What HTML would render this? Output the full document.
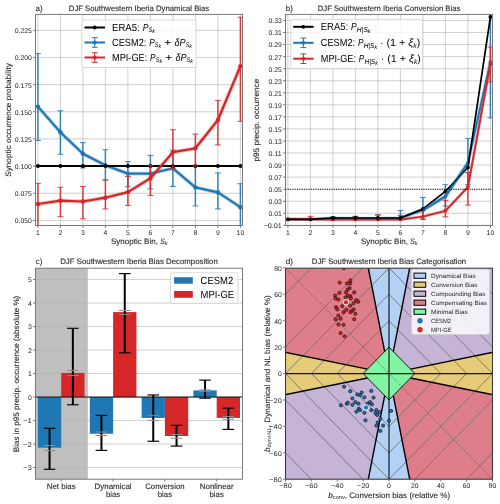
<!DOCTYPE html>
<html><head><meta charset="utf-8"><style>
html,body{margin:0;padding:0;background:#fff;}
svg{display:block;will-change:transform;text-rendering:geometricPrecision;font-family:"Liberation Sans", sans-serif;}
</style></head><body>
<svg width="500" height="504" viewBox="0 0 500 504">
<rect width="500" height="504" fill="#fff"/>
<clipPath id="ca"><rect x="35.5" y="14.4" width="207.0" height="211.1"/></clipPath>
<line x1="37.9" y1="14.4" x2="37.9" y2="225.5" stroke="#b0b0b0" stroke-width="0.6"/>
<line x1="60.4" y1="14.4" x2="60.4" y2="225.5" stroke="#b0b0b0" stroke-width="0.6"/>
<line x1="82.9" y1="14.4" x2="82.9" y2="225.5" stroke="#b0b0b0" stroke-width="0.6"/>
<line x1="105.4" y1="14.4" x2="105.4" y2="225.5" stroke="#b0b0b0" stroke-width="0.6"/>
<line x1="127.9" y1="14.4" x2="127.9" y2="225.5" stroke="#b0b0b0" stroke-width="0.6"/>
<line x1="150.4" y1="14.4" x2="150.4" y2="225.5" stroke="#b0b0b0" stroke-width="0.6"/>
<line x1="172.9" y1="14.4" x2="172.9" y2="225.5" stroke="#b0b0b0" stroke-width="0.6"/>
<line x1="195.4" y1="14.4" x2="195.4" y2="225.5" stroke="#b0b0b0" stroke-width="0.6"/>
<line x1="217.9" y1="14.4" x2="217.9" y2="225.5" stroke="#b0b0b0" stroke-width="0.6"/>
<line x1="240.4" y1="14.4" x2="240.4" y2="225.5" stroke="#b0b0b0" stroke-width="0.6"/>
<line x1="35.5" y1="220.38" x2="242.5" y2="220.38" stroke="#b0b0b0" stroke-width="0.6"/>
<line x1="35.5" y1="193.24" x2="242.5" y2="193.24" stroke="#b0b0b0" stroke-width="0.6"/>
<line x1="35.5" y1="166.1" x2="242.5" y2="166.1" stroke="#b0b0b0" stroke-width="0.6"/>
<line x1="35.5" y1="138.96" x2="242.5" y2="138.96" stroke="#b0b0b0" stroke-width="0.6"/>
<line x1="35.5" y1="111.81" x2="242.5" y2="111.81" stroke="#b0b0b0" stroke-width="0.6"/>
<line x1="35.5" y1="84.67" x2="242.5" y2="84.67" stroke="#b0b0b0" stroke-width="0.6"/>
<line x1="35.5" y1="57.53" x2="242.5" y2="57.53" stroke="#b0b0b0" stroke-width="0.6"/>
<line x1="35.5" y1="30.39" x2="242.5" y2="30.39" stroke="#b0b0b0" stroke-width="0.6"/>
<g clip-path="url(#ca)">
<polyline points="37.9,106.6 60.4,132.3 82.9,153.7 105.4,165.3 127.9,173.6 150.4,173.6 172.9,168.3 195.4,187.4 217.9,192.4 240.4,207.2" fill="none" stroke="#1f77b4" stroke-width="3.9" stroke-linejoin="round" opacity="0.3"/>
<polyline points="37.9,106.6 60.4,132.3 82.9,153.7 105.4,165.3 127.9,173.6 150.4,173.6 172.9,168.3 195.4,187.4 217.9,192.4 240.4,207.2" fill="none" stroke="#1f77b4" stroke-width="2.2" stroke-linejoin="round"/>
<line x1="37.9" y1="53.6" x2="37.9" y2="140.5" stroke="#1f77b4" stroke-width="1.5" opacity="0.88"/>
<line x1="35" y1="53.6" x2="40.8" y2="53.6" stroke="#1f77b4" stroke-width="1.1" opacity="0.8"/>
<line x1="35" y1="140.5" x2="40.8" y2="140.5" stroke="#1f77b4" stroke-width="1.1" opacity="0.8"/>
<circle cx="37.9" cy="106.6" r="2.2" fill="#1f77b4" stroke="none" stroke-width="0"/>
<line x1="60.4" y1="110.8" x2="60.4" y2="154.2" stroke="#1f77b4" stroke-width="1.5" opacity="0.88"/>
<line x1="57.5" y1="110.8" x2="63.3" y2="110.8" stroke="#1f77b4" stroke-width="1.1" opacity="0.8"/>
<line x1="57.5" y1="154.2" x2="63.3" y2="154.2" stroke="#1f77b4" stroke-width="1.1" opacity="0.8"/>
<circle cx="60.4" cy="132.3" r="2.2" fill="#1f77b4" stroke="none" stroke-width="0"/>
<line x1="82.9" y1="142.6" x2="82.9" y2="167.9" stroke="#1f77b4" stroke-width="1.5" opacity="0.88"/>
<line x1="80" y1="142.6" x2="85.8" y2="142.6" stroke="#1f77b4" stroke-width="1.1" opacity="0.8"/>
<line x1="80" y1="167.9" x2="85.8" y2="167.9" stroke="#1f77b4" stroke-width="1.1" opacity="0.8"/>
<circle cx="82.9" cy="153.7" r="2.2" fill="#1f77b4" stroke="none" stroke-width="0"/>
<line x1="105.4" y1="149.7" x2="105.4" y2="179.9" stroke="#1f77b4" stroke-width="1.5" opacity="0.88"/>
<line x1="102.5" y1="149.7" x2="108.3" y2="149.7" stroke="#1f77b4" stroke-width="1.1" opacity="0.8"/>
<line x1="102.5" y1="179.9" x2="108.3" y2="179.9" stroke="#1f77b4" stroke-width="1.1" opacity="0.8"/>
<circle cx="105.4" cy="165.3" r="2.2" fill="#1f77b4" stroke="none" stroke-width="0"/>
<line x1="127.9" y1="161.6" x2="127.9" y2="186.6" stroke="#1f77b4" stroke-width="1.5" opacity="0.88"/>
<line x1="125" y1="161.6" x2="130.8" y2="161.6" stroke="#1f77b4" stroke-width="1.1" opacity="0.8"/>
<line x1="125" y1="186.6" x2="130.8" y2="186.6" stroke="#1f77b4" stroke-width="1.1" opacity="0.8"/>
<circle cx="127.9" cy="173.6" r="2.2" fill="#1f77b4" stroke="none" stroke-width="0"/>
<line x1="150.4" y1="155.4" x2="150.4" y2="188.9" stroke="#1f77b4" stroke-width="1.5" opacity="0.88"/>
<line x1="147.5" y1="155.4" x2="153.3" y2="155.4" stroke="#1f77b4" stroke-width="1.1" opacity="0.8"/>
<line x1="147.5" y1="188.9" x2="153.3" y2="188.9" stroke="#1f77b4" stroke-width="1.1" opacity="0.8"/>
<circle cx="150.4" cy="173.6" r="2.2" fill="#1f77b4" stroke="none" stroke-width="0"/>
<line x1="172.9" y1="150.2" x2="172.9" y2="186.5" stroke="#1f77b4" stroke-width="1.5" opacity="0.88"/>
<line x1="170" y1="150.2" x2="175.8" y2="150.2" stroke="#1f77b4" stroke-width="1.1" opacity="0.8"/>
<line x1="170" y1="186.5" x2="175.8" y2="186.5" stroke="#1f77b4" stroke-width="1.1" opacity="0.8"/>
<circle cx="172.9" cy="168.3" r="2.2" fill="#1f77b4" stroke="none" stroke-width="0"/>
<line x1="195.4" y1="166.1" x2="195.4" y2="205.9" stroke="#1f77b4" stroke-width="1.5" opacity="0.88"/>
<line x1="192.5" y1="166.1" x2="198.3" y2="166.1" stroke="#1f77b4" stroke-width="1.1" opacity="0.8"/>
<line x1="192.5" y1="205.9" x2="198.3" y2="205.9" stroke="#1f77b4" stroke-width="1.1" opacity="0.8"/>
<circle cx="195.4" cy="187.4" r="2.2" fill="#1f77b4" stroke="none" stroke-width="0"/>
<line x1="217.9" y1="172.9" x2="217.9" y2="208.9" stroke="#1f77b4" stroke-width="1.5" opacity="0.88"/>
<line x1="215" y1="172.9" x2="220.8" y2="172.9" stroke="#1f77b4" stroke-width="1.1" opacity="0.8"/>
<line x1="215" y1="208.9" x2="220.8" y2="208.9" stroke="#1f77b4" stroke-width="1.1" opacity="0.8"/>
<circle cx="217.9" cy="192.4" r="2.2" fill="#1f77b4" stroke="none" stroke-width="0"/>
<line x1="240.4" y1="183.7" x2="240.4" y2="232" stroke="#1f77b4" stroke-width="1.5" opacity="0.88"/>
<line x1="237.5" y1="183.7" x2="243.3" y2="183.7" stroke="#1f77b4" stroke-width="1.1" opacity="0.8"/>
<line x1="237.5" y1="232" x2="243.3" y2="232" stroke="#1f77b4" stroke-width="1.1" opacity="0.8"/>
<circle cx="240.4" cy="207.2" r="2.2" fill="#1f77b4" stroke="none" stroke-width="0"/>
<polyline points="37.9,166.1 60.4,166.1 82.9,166.1 105.4,166.1 127.9,166.1 150.4,166.1 172.9,166.1 195.4,166.1 217.9,166.1 240.4,166.1" fill="none" stroke="#000" stroke-width="2" stroke-linejoin="round"/>
<circle cx="37.9" cy="166.1" r="2" fill="#000" stroke="none" stroke-width="0"/>
<circle cx="60.4" cy="166.1" r="2" fill="#000" stroke="none" stroke-width="0"/>
<circle cx="82.9" cy="166.1" r="2" fill="#000" stroke="none" stroke-width="0"/>
<circle cx="105.4" cy="166.1" r="2" fill="#000" stroke="none" stroke-width="0"/>
<circle cx="127.9" cy="166.1" r="2" fill="#000" stroke="none" stroke-width="0"/>
<circle cx="150.4" cy="166.1" r="2" fill="#000" stroke="none" stroke-width="0"/>
<circle cx="172.9" cy="166.1" r="2" fill="#000" stroke="none" stroke-width="0"/>
<circle cx="195.4" cy="166.1" r="2" fill="#000" stroke="none" stroke-width="0"/>
<circle cx="217.9" cy="166.1" r="2" fill="#000" stroke="none" stroke-width="0"/>
<circle cx="240.4" cy="166.1" r="2" fill="#000" stroke="none" stroke-width="0"/>
<polyline points="37.9,204 60.4,200.7 82.9,201.5 105.4,197.7 127.9,192.1 150.4,178.3 172.9,152.2 195.4,148.3 217.9,120 240.4,66.1" fill="none" stroke="#d62728" stroke-width="3.9" stroke-linejoin="round" opacity="0.3"/>
<polyline points="37.9,204 60.4,200.7 82.9,201.5 105.4,197.7 127.9,192.1 150.4,178.3 172.9,152.2 195.4,148.3 217.9,120 240.4,66.1" fill="none" stroke="#d62728" stroke-width="2.2" stroke-linejoin="round"/>
<line x1="37.9" y1="183.4" x2="37.9" y2="232" stroke="#d62728" stroke-width="1.5" opacity="0.88"/>
<line x1="35" y1="183.4" x2="40.8" y2="183.4" stroke="#d62728" stroke-width="1.1" opacity="0.8"/>
<line x1="35" y1="232" x2="40.8" y2="232" stroke="#d62728" stroke-width="1.1" opacity="0.8"/>
<circle cx="37.9" cy="204" r="2.2" fill="#d62728" stroke="none" stroke-width="0"/>
<line x1="60.4" y1="187.3" x2="60.4" y2="216.7" stroke="#d62728" stroke-width="1.5" opacity="0.88"/>
<line x1="57.5" y1="187.3" x2="63.3" y2="187.3" stroke="#d62728" stroke-width="1.1" opacity="0.8"/>
<line x1="57.5" y1="216.7" x2="63.3" y2="216.7" stroke="#d62728" stroke-width="1.1" opacity="0.8"/>
<circle cx="60.4" cy="200.7" r="2.2" fill="#d62728" stroke="none" stroke-width="0"/>
<line x1="82.9" y1="186.5" x2="82.9" y2="218.8" stroke="#d62728" stroke-width="1.5" opacity="0.88"/>
<line x1="80" y1="186.5" x2="85.8" y2="186.5" stroke="#d62728" stroke-width="1.1" opacity="0.8"/>
<line x1="80" y1="218.8" x2="85.8" y2="218.8" stroke="#d62728" stroke-width="1.1" opacity="0.8"/>
<circle cx="82.9" cy="201.5" r="2.2" fill="#d62728" stroke="none" stroke-width="0"/>
<line x1="105.4" y1="179.9" x2="105.4" y2="208.9" stroke="#d62728" stroke-width="1.5" opacity="0.88"/>
<line x1="102.5" y1="179.9" x2="108.3" y2="179.9" stroke="#d62728" stroke-width="1.1" opacity="0.8"/>
<line x1="102.5" y1="208.9" x2="108.3" y2="208.9" stroke="#d62728" stroke-width="1.1" opacity="0.8"/>
<circle cx="105.4" cy="197.7" r="2.2" fill="#d62728" stroke="none" stroke-width="0"/>
<line x1="127.9" y1="176.5" x2="127.9" y2="205.5" stroke="#d62728" stroke-width="1.5" opacity="0.88"/>
<line x1="125" y1="176.5" x2="130.8" y2="176.5" stroke="#d62728" stroke-width="1.1" opacity="0.8"/>
<line x1="125" y1="205.5" x2="130.8" y2="205.5" stroke="#d62728" stroke-width="1.1" opacity="0.8"/>
<circle cx="127.9" cy="192.1" r="2.2" fill="#d62728" stroke="none" stroke-width="0"/>
<line x1="150.4" y1="165.4" x2="150.4" y2="195.5" stroke="#d62728" stroke-width="1.5" opacity="0.88"/>
<line x1="147.5" y1="165.4" x2="153.3" y2="165.4" stroke="#d62728" stroke-width="1.1" opacity="0.8"/>
<line x1="147.5" y1="195.5" x2="153.3" y2="195.5" stroke="#d62728" stroke-width="1.1" opacity="0.8"/>
<circle cx="150.4" cy="178.3" r="2.2" fill="#d62728" stroke="none" stroke-width="0"/>
<line x1="172.9" y1="129.7" x2="172.9" y2="168.3" stroke="#d62728" stroke-width="1.5" opacity="0.88"/>
<line x1="170" y1="129.7" x2="175.8" y2="129.7" stroke="#d62728" stroke-width="1.1" opacity="0.8"/>
<line x1="170" y1="168.3" x2="175.8" y2="168.3" stroke="#d62728" stroke-width="1.1" opacity="0.8"/>
<circle cx="172.9" cy="152.2" r="2.2" fill="#d62728" stroke="none" stroke-width="0"/>
<line x1="195.4" y1="134.1" x2="195.4" y2="166.1" stroke="#d62728" stroke-width="1.5" opacity="0.88"/>
<line x1="192.5" y1="134.1" x2="198.3" y2="134.1" stroke="#d62728" stroke-width="1.1" opacity="0.8"/>
<line x1="192.5" y1="166.1" x2="198.3" y2="166.1" stroke="#d62728" stroke-width="1.1" opacity="0.8"/>
<circle cx="195.4" cy="148.3" r="2.2" fill="#d62728" stroke="none" stroke-width="0"/>
<line x1="217.9" y1="100.4" x2="217.9" y2="144.9" stroke="#d62728" stroke-width="1.5" opacity="0.88"/>
<line x1="215" y1="100.4" x2="220.8" y2="100.4" stroke="#d62728" stroke-width="1.1" opacity="0.8"/>
<line x1="215" y1="144.9" x2="220.8" y2="144.9" stroke="#d62728" stroke-width="1.1" opacity="0.8"/>
<circle cx="217.9" cy="120" r="2.2" fill="#d62728" stroke="none" stroke-width="0"/>
<line x1="240.4" y1="17.2" x2="240.4" y2="121.3" stroke="#d62728" stroke-width="1.5" opacity="0.88"/>
<line x1="237.5" y1="17.2" x2="243.3" y2="17.2" stroke="#d62728" stroke-width="1.1" opacity="0.8"/>
<line x1="237.5" y1="121.3" x2="243.3" y2="121.3" stroke="#d62728" stroke-width="1.1" opacity="0.8"/>
<circle cx="240.4" cy="66.1" r="2.2" fill="#d62728" stroke="none" stroke-width="0"/>
</g>
<rect x="35.5" y="14.4" width="207" height="211.1" fill="none" stroke="#737373" stroke-width="0.95"/>
<line x1="37.9" y1="225.5" x2="37.9" y2="227.9" stroke="#737373" stroke-width="0.95"/>
<text x="37.9" y="234.8" font-size="6.78" text-anchor="middle" fill="#262626" stroke="#262626" stroke-width="0" textLength="3.82" lengthAdjust="spacingAndGlyphs">1</text>
<line x1="60.4" y1="225.5" x2="60.4" y2="227.9" stroke="#737373" stroke-width="0.95"/>
<text x="60.4" y="234.8" font-size="6.78" text-anchor="middle" fill="#262626" stroke="#262626" stroke-width="0" textLength="3.82" lengthAdjust="spacingAndGlyphs">2</text>
<line x1="82.9" y1="225.5" x2="82.9" y2="227.9" stroke="#737373" stroke-width="0.95"/>
<text x="82.9" y="234.8" font-size="6.78" text-anchor="middle" fill="#262626" stroke="#262626" stroke-width="0" textLength="3.82" lengthAdjust="spacingAndGlyphs">3</text>
<line x1="105.4" y1="225.5" x2="105.4" y2="227.9" stroke="#737373" stroke-width="0.95"/>
<text x="105.4" y="234.8" font-size="6.78" text-anchor="middle" fill="#262626" stroke="#262626" stroke-width="0" textLength="3.82" lengthAdjust="spacingAndGlyphs">4</text>
<line x1="127.9" y1="225.5" x2="127.9" y2="227.9" stroke="#737373" stroke-width="0.95"/>
<text x="127.9" y="234.8" font-size="6.78" text-anchor="middle" fill="#262626" stroke="#262626" stroke-width="0" textLength="3.82" lengthAdjust="spacingAndGlyphs">5</text>
<line x1="150.4" y1="225.5" x2="150.4" y2="227.9" stroke="#737373" stroke-width="0.95"/>
<text x="150.4" y="234.8" font-size="6.78" text-anchor="middle" fill="#262626" stroke="#262626" stroke-width="0" textLength="3.82" lengthAdjust="spacingAndGlyphs">6</text>
<line x1="172.9" y1="225.5" x2="172.9" y2="227.9" stroke="#737373" stroke-width="0.95"/>
<text x="172.9" y="234.8" font-size="6.78" text-anchor="middle" fill="#262626" stroke="#262626" stroke-width="0" textLength="3.82" lengthAdjust="spacingAndGlyphs">7</text>
<line x1="195.4" y1="225.5" x2="195.4" y2="227.9" stroke="#737373" stroke-width="0.95"/>
<text x="195.4" y="234.8" font-size="6.78" text-anchor="middle" fill="#262626" stroke="#262626" stroke-width="0" textLength="3.82" lengthAdjust="spacingAndGlyphs">8</text>
<line x1="217.9" y1="225.5" x2="217.9" y2="227.9" stroke="#737373" stroke-width="0.95"/>
<text x="217.9" y="234.8" font-size="6.78" text-anchor="middle" fill="#262626" stroke="#262626" stroke-width="0" textLength="3.82" lengthAdjust="spacingAndGlyphs">9</text>
<line x1="240.4" y1="225.5" x2="240.4" y2="227.9" stroke="#737373" stroke-width="0.95"/>
<text x="240.4" y="234.8" font-size="6.78" text-anchor="middle" fill="#262626" stroke="#262626" stroke-width="0" textLength="7.63" lengthAdjust="spacingAndGlyphs">10</text>
<line x1="33.1" y1="220.38" x2="35.5" y2="220.38" stroke="#737373" stroke-width="0.95"/>
<text x="31.9" y="223.28" font-size="6.78" text-anchor="end" fill="#262626" stroke="#262626" stroke-width="0" textLength="17.18" lengthAdjust="spacingAndGlyphs">0.050</text>
<line x1="33.1" y1="193.24" x2="35.5" y2="193.24" stroke="#737373" stroke-width="0.95"/>
<text x="31.9" y="196.14" font-size="6.78" text-anchor="end" fill="#262626" stroke="#262626" stroke-width="0" textLength="17.18" lengthAdjust="spacingAndGlyphs">0.075</text>
<line x1="33.1" y1="166.1" x2="35.5" y2="166.1" stroke="#737373" stroke-width="0.95"/>
<text x="31.9" y="169" font-size="6.78" text-anchor="end" fill="#262626" stroke="#262626" stroke-width="0" textLength="17.18" lengthAdjust="spacingAndGlyphs">0.100</text>
<line x1="33.1" y1="138.96" x2="35.5" y2="138.96" stroke="#737373" stroke-width="0.95"/>
<text x="31.9" y="141.86" font-size="6.78" text-anchor="end" fill="#262626" stroke="#262626" stroke-width="0" textLength="17.18" lengthAdjust="spacingAndGlyphs">0.125</text>
<line x1="33.1" y1="111.81" x2="35.5" y2="111.81" stroke="#737373" stroke-width="0.95"/>
<text x="31.9" y="114.72" font-size="6.78" text-anchor="end" fill="#262626" stroke="#262626" stroke-width="0" textLength="17.18" lengthAdjust="spacingAndGlyphs">0.150</text>
<line x1="33.1" y1="84.67" x2="35.5" y2="84.67" stroke="#737373" stroke-width="0.95"/>
<text x="31.9" y="87.57" font-size="6.78" text-anchor="end" fill="#262626" stroke="#262626" stroke-width="0" textLength="17.18" lengthAdjust="spacingAndGlyphs">0.175</text>
<line x1="33.1" y1="57.53" x2="35.5" y2="57.53" stroke="#737373" stroke-width="0.95"/>
<text x="31.9" y="60.43" font-size="6.78" text-anchor="end" fill="#262626" stroke="#262626" stroke-width="0" textLength="17.18" lengthAdjust="spacingAndGlyphs">0.200</text>
<line x1="33.1" y1="30.39" x2="35.5" y2="30.39" stroke="#737373" stroke-width="0.95"/>
<text x="31.9" y="33.29" font-size="6.78" text-anchor="end" fill="#262626" stroke="#262626" stroke-width="0" textLength="17.18" lengthAdjust="spacingAndGlyphs">0.225</text>
<text x="35.6" y="11" font-size="7.91" fill="#262626" stroke="#262626" stroke-width="0.1" textLength="7.02" lengthAdjust="spacingAndGlyphs">a)</text>
<text x="139" y="11" font-size="7.91" text-anchor="middle" fill="#262626" stroke="#262626" stroke-width="0.1" textLength="140.36" lengthAdjust="spacingAndGlyphs">DJF Southwestern Iberia Dynamical Bias</text>
<text x="111" y="243.8" font-size="7.91" fill="#262626" stroke="#262626" stroke-width="0.1" textLength="46.89" lengthAdjust="spacingAndGlyphs">Synoptic Bin,</text>
<text x="160.16" y="243.8" font-size="7.91" font-style="italic" fill="#262626" stroke="#262626" stroke-width="0.1" textLength="4.54" lengthAdjust="spacingAndGlyphs">S</text>
<text x="164.7" y="245.1" font-size="5.54" font-style="italic" fill="#262626" stroke="#262626" stroke-width="0" textLength="2.9" lengthAdjust="spacingAndGlyphs">k</text>
<text x="11.1" y="119.9" font-size="7.91" text-anchor="middle" transform="rotate(-90 11.1 119.9)" fill="#262626" stroke="#262626" stroke-width="0.1" textLength="113.65" lengthAdjust="spacingAndGlyphs">Synoptic occurrence probability</text>
<rect x="81.75" y="20" width="114.45" height="47.5" rx="2" fill="#fff" fill-opacity="0.8" stroke="#cccccc" stroke-width="0.7"/>
<line x1="84.5" y1="27.5" x2="105" y2="27.5" stroke="#000" stroke-width="2"/>
<circle cx="94.75" cy="27.5" r="1.9" fill="#000" stroke="none" stroke-width="0"/>
<line x1="84.5" y1="42.5" x2="105" y2="42.5" stroke="#1f77b4" stroke-width="2"/>
<circle cx="94.75" cy="42.5" r="1.9" fill="#1f77b4" stroke="none" stroke-width="0"/>
<line x1="94.75" y1="37.7" x2="94.75" y2="47.3" stroke="#1f77b4" stroke-width="1"/>
<line x1="91.85" y1="37.7" x2="97.65" y2="37.7" stroke="#1f77b4" stroke-width="1"/>
<line x1="91.85" y1="47.3" x2="97.65" y2="47.3" stroke="#1f77b4" stroke-width="1"/>
<line x1="84.5" y1="57.5" x2="105" y2="57.5" stroke="#d62728" stroke-width="2"/>
<circle cx="94.75" cy="57.5" r="1.9" fill="#d62728" stroke="none" stroke-width="0"/>
<line x1="94.75" y1="52.7" x2="94.75" y2="62.3" stroke="#d62728" stroke-width="1"/>
<line x1="91.85" y1="52.7" x2="97.65" y2="52.7" stroke="#d62728" stroke-width="1"/>
<line x1="91.85" y1="62.3" x2="97.65" y2="62.3" stroke="#d62728" stroke-width="1"/>
<text x="112" y="30.7" font-size="10.3" fill="#000" stroke="#000" stroke-width="0" textLength="27.66" lengthAdjust="spacingAndGlyphs">ERA5:</text>
<text x="142.65" y="30.7" font-size="10.3" font-style="italic" fill="#000" stroke="#000" stroke-width="0" textLength="5.67" lengthAdjust="spacingAndGlyphs">P</text>
<text x="148.51" y="32.3" font-size="6.78" font-style="italic" fill="#000" stroke="#000" stroke-width="0" textLength="3.81" lengthAdjust="spacingAndGlyphs">S</text>
<text x="152.32" y="33.3" font-size="5.42" font-style="italic" fill="#000" stroke="#000" stroke-width="0" textLength="2.78" lengthAdjust="spacingAndGlyphs">k</text>
<text x="112" y="45.7" font-size="10.3" fill="#000" stroke="#000" stroke-width="0" textLength="34.34" lengthAdjust="spacingAndGlyphs">CESM2:</text>
<text x="149.21" y="45.7" font-size="10.3" font-style="italic" fill="#000" stroke="#000" stroke-width="0" textLength="5.45" lengthAdjust="spacingAndGlyphs">P</text>
<text x="154.85" y="47.3" font-size="6.78" font-style="italic" fill="#000" stroke="#000" stroke-width="0" textLength="3.66" lengthAdjust="spacingAndGlyphs">S</text>
<text x="158.51" y="48.3" font-size="5.42" font-style="italic" fill="#000" stroke="#000" stroke-width="0" textLength="2.67" lengthAdjust="spacingAndGlyphs">k</text>
<text x="164.06" y="45.7" font-size="10.3" fill="#000" stroke="#000" stroke-width="0" textLength="7.57" lengthAdjust="spacingAndGlyphs">+</text>
<text x="174.5" y="45.7" font-size="10.3" font-style="italic" fill="#000" stroke="#000" stroke-width="0" textLength="10.98" lengthAdjust="spacingAndGlyphs">δP</text>
<text x="185.67" y="47.3" font-size="6.78" font-style="italic" fill="#000" stroke="#000" stroke-width="0" textLength="3.66" lengthAdjust="spacingAndGlyphs">S</text>
<text x="189.33" y="48.3" font-size="5.42" font-style="italic" fill="#000" stroke="#000" stroke-width="0" textLength="2.67" lengthAdjust="spacingAndGlyphs">k</text>
<text x="112" y="60.7" font-size="10.3" fill="#000" stroke="#000" stroke-width="0" textLength="35.25" lengthAdjust="spacingAndGlyphs">MPI-GE:</text>
<text x="150.12" y="60.7" font-size="10.3" font-style="italic" fill="#000" stroke="#000" stroke-width="0" textLength="5.45" lengthAdjust="spacingAndGlyphs">P</text>
<text x="155.76" y="62.3" font-size="6.78" font-style="italic" fill="#000" stroke="#000" stroke-width="0" textLength="3.66" lengthAdjust="spacingAndGlyphs">S</text>
<text x="159.42" y="63.3" font-size="5.42" font-style="italic" fill="#000" stroke="#000" stroke-width="0" textLength="2.67" lengthAdjust="spacingAndGlyphs">k</text>
<text x="164.96" y="60.7" font-size="10.3" fill="#000" stroke="#000" stroke-width="0" textLength="7.57" lengthAdjust="spacingAndGlyphs">+</text>
<text x="175.4" y="60.7" font-size="10.3" font-style="italic" fill="#000" stroke="#000" stroke-width="0" textLength="10.97" lengthAdjust="spacingAndGlyphs">δP</text>
<text x="186.57" y="62.3" font-size="6.78" font-style="italic" fill="#000" stroke="#000" stroke-width="0" textLength="3.66" lengthAdjust="spacingAndGlyphs">S</text>
<text x="190.23" y="63.3" font-size="5.42" font-style="italic" fill="#000" stroke="#000" stroke-width="0" textLength="2.67" lengthAdjust="spacingAndGlyphs">k</text>
<clipPath id="cb"><rect x="285.5" y="14.4" width="207.0" height="211.1"/></clipPath>
<line x1="287.9" y1="14.4" x2="287.9" y2="225.5" stroke="#b0b0b0" stroke-width="0.6"/>
<line x1="310.4" y1="14.4" x2="310.4" y2="225.5" stroke="#b0b0b0" stroke-width="0.6"/>
<line x1="332.9" y1="14.4" x2="332.9" y2="225.5" stroke="#b0b0b0" stroke-width="0.6"/>
<line x1="355.4" y1="14.4" x2="355.4" y2="225.5" stroke="#b0b0b0" stroke-width="0.6"/>
<line x1="377.9" y1="14.4" x2="377.9" y2="225.5" stroke="#b0b0b0" stroke-width="0.6"/>
<line x1="400.4" y1="14.4" x2="400.4" y2="225.5" stroke="#b0b0b0" stroke-width="0.6"/>
<line x1="422.9" y1="14.4" x2="422.9" y2="225.5" stroke="#b0b0b0" stroke-width="0.6"/>
<line x1="445.4" y1="14.4" x2="445.4" y2="225.5" stroke="#b0b0b0" stroke-width="0.6"/>
<line x1="467.9" y1="14.4" x2="467.9" y2="225.5" stroke="#b0b0b0" stroke-width="0.6"/>
<line x1="490.4" y1="14.4" x2="490.4" y2="225.5" stroke="#b0b0b0" stroke-width="0.6"/>
<line x1="285.5" y1="225.3" x2="492.5" y2="225.3" stroke="#b0b0b0" stroke-width="0.6"/>
<line x1="285.5" y1="213.25" x2="492.5" y2="213.25" stroke="#b0b0b0" stroke-width="0.6"/>
<line x1="285.5" y1="201.2" x2="492.5" y2="201.2" stroke="#b0b0b0" stroke-width="0.6"/>
<line x1="285.5" y1="189.16" x2="492.5" y2="189.16" stroke="#b0b0b0" stroke-width="0.6"/>
<line x1="285.5" y1="177.11" x2="492.5" y2="177.11" stroke="#b0b0b0" stroke-width="0.6"/>
<line x1="285.5" y1="165.06" x2="492.5" y2="165.06" stroke="#b0b0b0" stroke-width="0.6"/>
<line x1="285.5" y1="153.01" x2="492.5" y2="153.01" stroke="#b0b0b0" stroke-width="0.6"/>
<line x1="285.5" y1="140.96" x2="492.5" y2="140.96" stroke="#b0b0b0" stroke-width="0.6"/>
<line x1="285.5" y1="128.92" x2="492.5" y2="128.92" stroke="#b0b0b0" stroke-width="0.6"/>
<line x1="285.5" y1="116.87" x2="492.5" y2="116.87" stroke="#b0b0b0" stroke-width="0.6"/>
<line x1="285.5" y1="104.82" x2="492.5" y2="104.82" stroke="#b0b0b0" stroke-width="0.6"/>
<line x1="285.5" y1="92.77" x2="492.5" y2="92.77" stroke="#b0b0b0" stroke-width="0.6"/>
<line x1="285.5" y1="80.72" x2="492.5" y2="80.72" stroke="#b0b0b0" stroke-width="0.6"/>
<line x1="285.5" y1="68.68" x2="492.5" y2="68.68" stroke="#b0b0b0" stroke-width="0.6"/>
<line x1="285.5" y1="56.63" x2="492.5" y2="56.63" stroke="#b0b0b0" stroke-width="0.6"/>
<line x1="285.5" y1="44.58" x2="492.5" y2="44.58" stroke="#b0b0b0" stroke-width="0.6"/>
<line x1="285.5" y1="32.53" x2="492.5" y2="32.53" stroke="#b0b0b0" stroke-width="0.6"/>
<line x1="285.5" y1="20.48" x2="492.5" y2="20.48" stroke="#b0b0b0" stroke-width="0.6"/>
<g clip-path="url(#cb)">
<polyline points="287.9,219.3 310.4,219.3 332.9,218.3 355.4,218.5 377.9,218.5 400.4,218 422.9,210.2 445.4,196.4 467.9,163 490.4,61.9" fill="none" stroke="#1f77b4" stroke-width="3.6" stroke-linejoin="round" opacity="0.3"/>
<polyline points="287.9,219.3 310.4,219.3 332.9,218.3 355.4,218.5 377.9,218.5 400.4,218 422.9,210.2 445.4,196.4 467.9,163 490.4,61.9" fill="none" stroke="#1f77b4" stroke-width="1.9" stroke-linejoin="round"/>
<circle cx="287.9" cy="219.3" r="1.9" fill="#1f77b4" stroke="none" stroke-width="0"/>
<circle cx="310.4" cy="219.3" r="1.9" fill="#1f77b4" stroke="none" stroke-width="0"/>
<line x1="332.9" y1="216.8" x2="332.9" y2="219.5" stroke="#1f77b4" stroke-width="1.5" opacity="0.88"/>
<line x1="330" y1="216.8" x2="335.8" y2="216.8" stroke="#1f77b4" stroke-width="1.1" opacity="0.8"/>
<line x1="330" y1="219.5" x2="335.8" y2="219.5" stroke="#1f77b4" stroke-width="1.1" opacity="0.8"/>
<circle cx="332.9" cy="218.3" r="1.9" fill="#1f77b4" stroke="none" stroke-width="0"/>
<line x1="355.4" y1="216.4" x2="355.4" y2="219.5" stroke="#1f77b4" stroke-width="1.5" opacity="0.88"/>
<line x1="352.5" y1="216.4" x2="358.3" y2="216.4" stroke="#1f77b4" stroke-width="1.1" opacity="0.8"/>
<line x1="352.5" y1="219.5" x2="358.3" y2="219.5" stroke="#1f77b4" stroke-width="1.1" opacity="0.8"/>
<circle cx="355.4" cy="218.5" r="1.9" fill="#1f77b4" stroke="none" stroke-width="0"/>
<line x1="377.9" y1="215" x2="377.9" y2="219.6" stroke="#1f77b4" stroke-width="1.5" opacity="0.88"/>
<line x1="375" y1="215" x2="380.8" y2="215" stroke="#1f77b4" stroke-width="1.1" opacity="0.8"/>
<line x1="375" y1="219.6" x2="380.8" y2="219.6" stroke="#1f77b4" stroke-width="1.1" opacity="0.8"/>
<circle cx="377.9" cy="218.5" r="1.9" fill="#1f77b4" stroke="none" stroke-width="0"/>
<line x1="400.4" y1="210.5" x2="400.4" y2="219.6" stroke="#1f77b4" stroke-width="1.5" opacity="0.88"/>
<line x1="397.5" y1="210.5" x2="403.3" y2="210.5" stroke="#1f77b4" stroke-width="1.1" opacity="0.8"/>
<line x1="397.5" y1="219.6" x2="403.3" y2="219.6" stroke="#1f77b4" stroke-width="1.1" opacity="0.8"/>
<circle cx="400.4" cy="218" r="1.9" fill="#1f77b4" stroke="none" stroke-width="0"/>
<line x1="422.9" y1="197.4" x2="422.9" y2="219.3" stroke="#1f77b4" stroke-width="1.5" opacity="0.88"/>
<line x1="420" y1="197.4" x2="425.8" y2="197.4" stroke="#1f77b4" stroke-width="1.1" opacity="0.8"/>
<line x1="420" y1="219.3" x2="425.8" y2="219.3" stroke="#1f77b4" stroke-width="1.1" opacity="0.8"/>
<circle cx="422.9" cy="210.2" r="1.9" fill="#1f77b4" stroke="none" stroke-width="0"/>
<line x1="445.4" y1="184.7" x2="445.4" y2="206" stroke="#1f77b4" stroke-width="1.5" opacity="0.88"/>
<line x1="442.5" y1="184.7" x2="448.3" y2="184.7" stroke="#1f77b4" stroke-width="1.1" opacity="0.8"/>
<line x1="442.5" y1="206" x2="448.3" y2="206" stroke="#1f77b4" stroke-width="1.1" opacity="0.8"/>
<circle cx="445.4" cy="196.4" r="1.9" fill="#1f77b4" stroke="none" stroke-width="0"/>
<line x1="467.9" y1="138.5" x2="467.9" y2="184.7" stroke="#1f77b4" stroke-width="1.5" opacity="0.88"/>
<line x1="465" y1="138.5" x2="470.8" y2="138.5" stroke="#1f77b4" stroke-width="1.1" opacity="0.8"/>
<line x1="465" y1="184.7" x2="470.8" y2="184.7" stroke="#1f77b4" stroke-width="1.1" opacity="0.8"/>
<circle cx="467.9" cy="163" r="1.9" fill="#1f77b4" stroke="none" stroke-width="0"/>
<line x1="490.4" y1="5" x2="490.4" y2="118" stroke="#1f77b4" stroke-width="1.5" opacity="0.88"/>
<line x1="487.5" y1="5" x2="493.3" y2="5" stroke="#1f77b4" stroke-width="1.1" opacity="0.8"/>
<line x1="487.5" y1="118" x2="493.3" y2="118" stroke="#1f77b4" stroke-width="1.1" opacity="0.8"/>
<circle cx="490.4" cy="61.9" r="1.9" fill="#1f77b4" stroke="none" stroke-width="0"/>
<polyline points="287.9,219.3 310.4,219.3 332.9,219.6 355.4,219.6 377.9,219.6 400.4,219.6 422.9,216.6 445.4,210.8 467.9,187 490.4,64.1" fill="none" stroke="#d62728" stroke-width="3" stroke-linejoin="round" opacity="0.3"/>
<polyline points="287.9,219.3 310.4,219.3 332.9,219.6 355.4,219.6 377.9,219.6 400.4,219.6 422.9,216.6 445.4,210.8 467.9,187 490.4,64.1" fill="none" stroke="#d62728" stroke-width="1.9" stroke-linejoin="round"/>
<circle cx="287.9" cy="219.3" r="1.9" fill="#d62728" stroke="none" stroke-width="0"/>
<line x1="310.4" y1="216.3" x2="310.4" y2="219.6" stroke="#d62728" stroke-width="1.5" opacity="0.88"/>
<line x1="307.5" y1="216.3" x2="313.3" y2="216.3" stroke="#d62728" stroke-width="1.1" opacity="0.8"/>
<line x1="307.5" y1="219.6" x2="313.3" y2="219.6" stroke="#d62728" stroke-width="1.1" opacity="0.8"/>
<circle cx="310.4" cy="219.3" r="1.9" fill="#d62728" stroke="none" stroke-width="0"/>
<line x1="332.9" y1="217.5" x2="332.9" y2="219.8" stroke="#d62728" stroke-width="1.5" opacity="0.88"/>
<line x1="330" y1="217.5" x2="335.8" y2="217.5" stroke="#d62728" stroke-width="1.1" opacity="0.8"/>
<line x1="330" y1="219.8" x2="335.8" y2="219.8" stroke="#d62728" stroke-width="1.1" opacity="0.8"/>
<circle cx="332.9" cy="219.6" r="1.9" fill="#d62728" stroke="none" stroke-width="0"/>
<line x1="355.4" y1="216.4" x2="355.4" y2="219.8" stroke="#d62728" stroke-width="1.5" opacity="0.88"/>
<line x1="352.5" y1="216.4" x2="358.3" y2="216.4" stroke="#d62728" stroke-width="1.1" opacity="0.8"/>
<line x1="352.5" y1="219.8" x2="358.3" y2="219.8" stroke="#d62728" stroke-width="1.1" opacity="0.8"/>
<circle cx="355.4" cy="219.6" r="1.9" fill="#d62728" stroke="none" stroke-width="0"/>
<line x1="377.9" y1="214.8" x2="377.9" y2="219.8" stroke="#d62728" stroke-width="1.5" opacity="0.88"/>
<line x1="375" y1="214.8" x2="380.8" y2="214.8" stroke="#d62728" stroke-width="1.1" opacity="0.8"/>
<line x1="375" y1="219.8" x2="380.8" y2="219.8" stroke="#d62728" stroke-width="1.1" opacity="0.8"/>
<circle cx="377.9" cy="219.6" r="1.9" fill="#d62728" stroke="none" stroke-width="0"/>
<line x1="400.4" y1="215.3" x2="400.4" y2="219.8" stroke="#d62728" stroke-width="1.5" opacity="0.88"/>
<line x1="397.5" y1="215.3" x2="403.3" y2="215.3" stroke="#d62728" stroke-width="1.1" opacity="0.8"/>
<line x1="397.5" y1="219.8" x2="403.3" y2="219.8" stroke="#d62728" stroke-width="1.1" opacity="0.8"/>
<circle cx="400.4" cy="219.6" r="1.9" fill="#d62728" stroke="none" stroke-width="0"/>
<line x1="422.9" y1="209.5" x2="422.9" y2="219.2" stroke="#d62728" stroke-width="1.5" opacity="0.88"/>
<line x1="420" y1="209.5" x2="425.8" y2="209.5" stroke="#d62728" stroke-width="1.1" opacity="0.8"/>
<line x1="420" y1="219.2" x2="425.8" y2="219.2" stroke="#d62728" stroke-width="1.1" opacity="0.8"/>
<circle cx="422.9" cy="216.6" r="1.9" fill="#d62728" stroke="none" stroke-width="0"/>
<line x1="445.4" y1="200.4" x2="445.4" y2="216.8" stroke="#d62728" stroke-width="1.5" opacity="0.88"/>
<line x1="442.5" y1="200.4" x2="448.3" y2="200.4" stroke="#d62728" stroke-width="1.1" opacity="0.8"/>
<line x1="442.5" y1="216.8" x2="448.3" y2="216.8" stroke="#d62728" stroke-width="1.1" opacity="0.8"/>
<circle cx="445.4" cy="210.8" r="1.9" fill="#d62728" stroke="none" stroke-width="0"/>
<line x1="467.9" y1="172.5" x2="467.9" y2="205.1" stroke="#d62728" stroke-width="1.5" opacity="0.88"/>
<line x1="465" y1="172.5" x2="470.8" y2="172.5" stroke="#d62728" stroke-width="1.1" opacity="0.8"/>
<line x1="465" y1="205.1" x2="470.8" y2="205.1" stroke="#d62728" stroke-width="1.1" opacity="0.8"/>
<circle cx="467.9" cy="187" r="1.9" fill="#d62728" stroke="none" stroke-width="0"/>
<line x1="490.4" y1="47.1" x2="490.4" y2="82" stroke="#d62728" stroke-width="1.5" opacity="0.88"/>
<line x1="487.5" y1="47.1" x2="493.3" y2="47.1" stroke="#d62728" stroke-width="1.1" opacity="0.8"/>
<line x1="487.5" y1="82" x2="493.3" y2="82" stroke="#d62728" stroke-width="1.1" opacity="0.8"/>
<circle cx="490.4" cy="64.1" r="1.9" fill="#d62728" stroke="none" stroke-width="0"/>
<polyline points="287.9,219.3 310.4,219.3 332.9,218 355.4,218 377.9,218 400.4,218 422.9,208.9 445.4,191.3 467.9,167.5 490.4,17" fill="none" stroke="#000" stroke-width="1.7" stroke-linejoin="round"/>
<circle cx="287.9" cy="219.3" r="1.9" fill="#000" stroke="none" stroke-width="0"/>
<circle cx="310.4" cy="219.3" r="1.9" fill="#000" stroke="none" stroke-width="0"/>
<circle cx="332.9" cy="218" r="1.9" fill="#000" stroke="none" stroke-width="0"/>
<circle cx="355.4" cy="218" r="1.9" fill="#000" stroke="none" stroke-width="0"/>
<circle cx="377.9" cy="218" r="1.9" fill="#000" stroke="none" stroke-width="0"/>
<circle cx="400.4" cy="218" r="1.9" fill="#000" stroke="none" stroke-width="0"/>
<circle cx="422.9" cy="208.9" r="1.9" fill="#000" stroke="none" stroke-width="0"/>
<circle cx="445.4" cy="191.3" r="1.9" fill="#000" stroke="none" stroke-width="0"/>
<circle cx="467.9" cy="167.5" r="1.9" fill="#000" stroke="none" stroke-width="0"/>
<circle cx="490.4" cy="17" r="1.9" fill="#000" stroke="none" stroke-width="0"/>
<polyline points="422.9,210.2 445.4,196.4 467.9,163" fill="none" stroke="#1f77b4" stroke-width="3.2" stroke-linejoin="round" opacity="0.45"/>
<line x1="285.5" y1="189.3" x2="492.5" y2="189.3" stroke="#000" stroke-width="1" stroke-dasharray="1 1.3"/>
</g>
<rect x="285.5" y="14.4" width="207" height="211.1" fill="none" stroke="#737373" stroke-width="0.95"/>
<line x1="287.9" y1="225.5" x2="287.9" y2="227.9" stroke="#737373" stroke-width="0.95"/>
<text x="287.9" y="234.8" font-size="6.78" text-anchor="middle" fill="#262626" stroke="#262626" stroke-width="0" textLength="3.82" lengthAdjust="spacingAndGlyphs">1</text>
<line x1="310.4" y1="225.5" x2="310.4" y2="227.9" stroke="#737373" stroke-width="0.95"/>
<text x="310.4" y="234.8" font-size="6.78" text-anchor="middle" fill="#262626" stroke="#262626" stroke-width="0" textLength="3.82" lengthAdjust="spacingAndGlyphs">2</text>
<line x1="332.9" y1="225.5" x2="332.9" y2="227.9" stroke="#737373" stroke-width="0.95"/>
<text x="332.9" y="234.8" font-size="6.78" text-anchor="middle" fill="#262626" stroke="#262626" stroke-width="0" textLength="3.82" lengthAdjust="spacingAndGlyphs">3</text>
<line x1="355.4" y1="225.5" x2="355.4" y2="227.9" stroke="#737373" stroke-width="0.95"/>
<text x="355.4" y="234.8" font-size="6.78" text-anchor="middle" fill="#262626" stroke="#262626" stroke-width="0" textLength="3.82" lengthAdjust="spacingAndGlyphs">4</text>
<line x1="377.9" y1="225.5" x2="377.9" y2="227.9" stroke="#737373" stroke-width="0.95"/>
<text x="377.9" y="234.8" font-size="6.78" text-anchor="middle" fill="#262626" stroke="#262626" stroke-width="0" textLength="3.82" lengthAdjust="spacingAndGlyphs">5</text>
<line x1="400.4" y1="225.5" x2="400.4" y2="227.9" stroke="#737373" stroke-width="0.95"/>
<text x="400.4" y="234.8" font-size="6.78" text-anchor="middle" fill="#262626" stroke="#262626" stroke-width="0" textLength="3.82" lengthAdjust="spacingAndGlyphs">6</text>
<line x1="422.9" y1="225.5" x2="422.9" y2="227.9" stroke="#737373" stroke-width="0.95"/>
<text x="422.9" y="234.8" font-size="6.78" text-anchor="middle" fill="#262626" stroke="#262626" stroke-width="0" textLength="3.82" lengthAdjust="spacingAndGlyphs">7</text>
<line x1="445.4" y1="225.5" x2="445.4" y2="227.9" stroke="#737373" stroke-width="0.95"/>
<text x="445.4" y="234.8" font-size="6.78" text-anchor="middle" fill="#262626" stroke="#262626" stroke-width="0" textLength="3.82" lengthAdjust="spacingAndGlyphs">8</text>
<line x1="467.9" y1="225.5" x2="467.9" y2="227.9" stroke="#737373" stroke-width="0.95"/>
<text x="467.9" y="234.8" font-size="6.78" text-anchor="middle" fill="#262626" stroke="#262626" stroke-width="0" textLength="3.82" lengthAdjust="spacingAndGlyphs">9</text>
<line x1="490.4" y1="225.5" x2="490.4" y2="227.9" stroke="#737373" stroke-width="0.95"/>
<text x="490.4" y="234.8" font-size="6.78" text-anchor="middle" fill="#262626" stroke="#262626" stroke-width="0" textLength="7.63" lengthAdjust="spacingAndGlyphs">10</text>
<line x1="283.1" y1="225.3" x2="285.5" y2="225.3" stroke="#737373" stroke-width="0.95"/>
<text x="281.8" y="228.2" font-size="6.78" text-anchor="end" fill="#262626" stroke="#262626" stroke-width="0" textLength="18.39" lengthAdjust="spacingAndGlyphs">−0.01</text>
<line x1="283.1" y1="213.25" x2="285.5" y2="213.25" stroke="#737373" stroke-width="0.95"/>
<text x="281.8" y="216.15" font-size="6.78" text-anchor="end" fill="#262626" stroke="#262626" stroke-width="0" textLength="13.36" lengthAdjust="spacingAndGlyphs">0.01</text>
<line x1="283.1" y1="201.2" x2="285.5" y2="201.2" stroke="#737373" stroke-width="0.95"/>
<text x="281.8" y="204.1" font-size="6.78" text-anchor="end" fill="#262626" stroke="#262626" stroke-width="0" textLength="13.36" lengthAdjust="spacingAndGlyphs">0.03</text>
<line x1="283.1" y1="189.16" x2="285.5" y2="189.16" stroke="#737373" stroke-width="0.95"/>
<text x="281.8" y="192.06" font-size="6.78" text-anchor="end" fill="#262626" stroke="#262626" stroke-width="0" textLength="13.36" lengthAdjust="spacingAndGlyphs">0.05</text>
<line x1="283.1" y1="177.11" x2="285.5" y2="177.11" stroke="#737373" stroke-width="0.95"/>
<text x="281.8" y="180.01" font-size="6.78" text-anchor="end" fill="#262626" stroke="#262626" stroke-width="0" textLength="13.36" lengthAdjust="spacingAndGlyphs">0.07</text>
<line x1="283.1" y1="165.06" x2="285.5" y2="165.06" stroke="#737373" stroke-width="0.95"/>
<text x="281.8" y="167.96" font-size="6.78" text-anchor="end" fill="#262626" stroke="#262626" stroke-width="0" textLength="13.36" lengthAdjust="spacingAndGlyphs">0.09</text>
<line x1="283.1" y1="153.01" x2="285.5" y2="153.01" stroke="#737373" stroke-width="0.95"/>
<text x="281.8" y="155.91" font-size="6.78" text-anchor="end" fill="#262626" stroke="#262626" stroke-width="0" textLength="13.36" lengthAdjust="spacingAndGlyphs">0.11</text>
<line x1="283.1" y1="140.96" x2="285.5" y2="140.96" stroke="#737373" stroke-width="0.95"/>
<text x="281.8" y="143.86" font-size="6.78" text-anchor="end" fill="#262626" stroke="#262626" stroke-width="0" textLength="13.36" lengthAdjust="spacingAndGlyphs">0.13</text>
<line x1="283.1" y1="128.92" x2="285.5" y2="128.92" stroke="#737373" stroke-width="0.95"/>
<text x="281.8" y="131.82" font-size="6.78" text-anchor="end" fill="#262626" stroke="#262626" stroke-width="0" textLength="13.36" lengthAdjust="spacingAndGlyphs">0.15</text>
<line x1="283.1" y1="116.87" x2="285.5" y2="116.87" stroke="#737373" stroke-width="0.95"/>
<text x="281.8" y="119.77" font-size="6.78" text-anchor="end" fill="#262626" stroke="#262626" stroke-width="0" textLength="13.36" lengthAdjust="spacingAndGlyphs">0.17</text>
<line x1="283.1" y1="104.82" x2="285.5" y2="104.82" stroke="#737373" stroke-width="0.95"/>
<text x="281.8" y="107.72" font-size="6.78" text-anchor="end" fill="#262626" stroke="#262626" stroke-width="0" textLength="13.36" lengthAdjust="spacingAndGlyphs">0.19</text>
<line x1="283.1" y1="92.77" x2="285.5" y2="92.77" stroke="#737373" stroke-width="0.95"/>
<text x="281.8" y="95.67" font-size="6.78" text-anchor="end" fill="#262626" stroke="#262626" stroke-width="0" textLength="13.36" lengthAdjust="spacingAndGlyphs">0.21</text>
<line x1="283.1" y1="80.72" x2="285.5" y2="80.72" stroke="#737373" stroke-width="0.95"/>
<text x="281.8" y="83.62" font-size="6.78" text-anchor="end" fill="#262626" stroke="#262626" stroke-width="0" textLength="13.36" lengthAdjust="spacingAndGlyphs">0.23</text>
<line x1="283.1" y1="68.68" x2="285.5" y2="68.68" stroke="#737373" stroke-width="0.95"/>
<text x="281.8" y="71.58" font-size="6.78" text-anchor="end" fill="#262626" stroke="#262626" stroke-width="0" textLength="13.36" lengthAdjust="spacingAndGlyphs">0.25</text>
<line x1="283.1" y1="56.63" x2="285.5" y2="56.63" stroke="#737373" stroke-width="0.95"/>
<text x="281.8" y="59.53" font-size="6.78" text-anchor="end" fill="#262626" stroke="#262626" stroke-width="0" textLength="13.36" lengthAdjust="spacingAndGlyphs">0.27</text>
<line x1="283.1" y1="44.58" x2="285.5" y2="44.58" stroke="#737373" stroke-width="0.95"/>
<text x="281.8" y="47.48" font-size="6.78" text-anchor="end" fill="#262626" stroke="#262626" stroke-width="0" textLength="13.36" lengthAdjust="spacingAndGlyphs">0.29</text>
<line x1="283.1" y1="32.53" x2="285.5" y2="32.53" stroke="#737373" stroke-width="0.95"/>
<text x="281.8" y="35.43" font-size="6.78" text-anchor="end" fill="#262626" stroke="#262626" stroke-width="0" textLength="13.36" lengthAdjust="spacingAndGlyphs">0.31</text>
<line x1="283.1" y1="20.48" x2="285.5" y2="20.48" stroke="#737373" stroke-width="0.95"/>
<text x="281.8" y="23.38" font-size="6.78" text-anchor="end" fill="#262626" stroke="#262626" stroke-width="0" textLength="13.36" lengthAdjust="spacingAndGlyphs">0.33</text>
<text x="285.8" y="11" font-size="7.91" fill="#262626" stroke="#262626" stroke-width="0.1" textLength="7.17" lengthAdjust="spacingAndGlyphs">b)</text>
<text x="389" y="11" font-size="7.91" text-anchor="middle" fill="#262626" stroke="#262626" stroke-width="0.1" textLength="142.5" lengthAdjust="spacingAndGlyphs">DJF Southwestern Iberia Conversion Bias</text>
<text x="361" y="243.8" font-size="7.91" fill="#262626" stroke="#262626" stroke-width="0.1" textLength="46.89" lengthAdjust="spacingAndGlyphs">Synoptic Bin,</text>
<text x="410.16" y="243.8" font-size="7.91" font-style="italic" fill="#262626" stroke="#262626" stroke-width="0.1" textLength="4.54" lengthAdjust="spacingAndGlyphs">S</text>
<text x="414.7" y="245.1" font-size="5.54" font-style="italic" fill="#262626" stroke="#262626" stroke-width="0" textLength="2.9" lengthAdjust="spacingAndGlyphs">k</text>
<text x="259" y="120.1" font-size="7.91" text-anchor="middle" transform="rotate(-90 259 120.1)" fill="#262626" stroke="#262626" stroke-width="0.1" textLength="82.6" lengthAdjust="spacingAndGlyphs">p95 precip. occurrence</text>
<rect x="290.8" y="19.4" width="131.8" height="49.2" rx="2" fill="#fff" fill-opacity="0.8" stroke="#cccccc" stroke-width="0.7"/>
<line x1="293.2" y1="26.8" x2="313.6" y2="26.8" stroke="#000" stroke-width="2"/>
<circle cx="303.4" cy="26.8" r="1.9" fill="#000" stroke="none" stroke-width="0"/>
<line x1="293.2" y1="42.8" x2="313.6" y2="42.8" stroke="#1f77b4" stroke-width="2"/>
<circle cx="303.4" cy="42.8" r="1.9" fill="#1f77b4" stroke="none" stroke-width="0"/>
<line x1="303.4" y1="38" x2="303.4" y2="47.6" stroke="#1f77b4" stroke-width="1"/>
<line x1="300.5" y1="38" x2="306.3" y2="38" stroke="#1f77b4" stroke-width="1"/>
<line x1="300.5" y1="47.6" x2="306.3" y2="47.6" stroke="#1f77b4" stroke-width="1"/>
<line x1="293.2" y1="58.7" x2="313.6" y2="58.7" stroke="#d62728" stroke-width="2"/>
<circle cx="303.4" cy="58.7" r="1.9" fill="#d62728" stroke="none" stroke-width="0"/>
<line x1="303.4" y1="53.9" x2="303.4" y2="63.5" stroke="#d62728" stroke-width="1"/>
<line x1="300.5" y1="53.9" x2="306.3" y2="53.9" stroke="#d62728" stroke-width="1"/>
<line x1="300.5" y1="63.5" x2="306.3" y2="63.5" stroke="#d62728" stroke-width="1"/>
<text x="320.8" y="30.1" font-size="10.3" fill="#000" stroke="#000" stroke-width="0" textLength="27.3" lengthAdjust="spacingAndGlyphs">ERA5:</text>
<text x="351.05" y="30.1" font-size="10.3" font-style="italic" fill="#000" stroke="#000" stroke-width="0" textLength="5.59" lengthAdjust="spacingAndGlyphs">P</text>
<text x="356.84" y="31.7" font-size="7.32" font-style="italic" fill="#000" stroke="#000" stroke-width="0" textLength="11.02" lengthAdjust="spacingAndGlyphs">H|S</text>
<text x="367.86" y="32.7" font-size="5.42" font-style="italic" fill="#000" stroke="#000" stroke-width="0" textLength="2.74" lengthAdjust="spacingAndGlyphs">k</text>
<text x="320.8" y="46.1" font-size="10.3" fill="#000" stroke="#000" stroke-width="0" textLength="34.35" lengthAdjust="spacingAndGlyphs">CESM2:</text>
<text x="358.02" y="46.1" font-size="10.3" font-style="italic" fill="#000" stroke="#000" stroke-width="0" textLength="5.45" lengthAdjust="spacingAndGlyphs">P</text>
<text x="363.67" y="47.7" font-size="7.32" font-style="italic" fill="#000" stroke="#000" stroke-width="0" textLength="10.74" lengthAdjust="spacingAndGlyphs">H|S</text>
<text x="374.41" y="48.7" font-size="5.42" font-style="italic" fill="#000" stroke="#000" stroke-width="0" textLength="2.67" lengthAdjust="spacingAndGlyphs">k</text>
<text x="379.95" y="46.1" font-size="10.3" fill="#000" stroke="#000" stroke-width="0" textLength="25.47" lengthAdjust="spacingAndGlyphs">· (1 +</text>
<text x="408.29" y="46.1" font-size="10.3" font-style="italic" fill="#000" stroke="#000" stroke-width="0" textLength="5.04" lengthAdjust="spacingAndGlyphs">ξ</text>
<text x="413.33" y="47.7" font-size="6.78" font-style="italic" fill="#000" stroke="#000" stroke-width="0" textLength="3.34" lengthAdjust="spacingAndGlyphs">k</text>
<text x="416.67" y="46.1" font-size="10.3" fill="#000" stroke="#000" stroke-width="0" textLength="3.53" lengthAdjust="spacingAndGlyphs">)</text>
<text x="320.8" y="62" font-size="10.3" fill="#000" stroke="#000" stroke-width="0" textLength="35.16" lengthAdjust="spacingAndGlyphs">MPI-GE:</text>
<text x="358.82" y="62" font-size="10.3" font-style="italic" fill="#000" stroke="#000" stroke-width="0" textLength="5.43" lengthAdjust="spacingAndGlyphs">P</text>
<text x="364.44" y="63.6" font-size="7.32" font-style="italic" fill="#000" stroke="#000" stroke-width="0" textLength="10.71" lengthAdjust="spacingAndGlyphs">H|S</text>
<text x="375.15" y="64.6" font-size="5.42" font-style="italic" fill="#000" stroke="#000" stroke-width="0" textLength="2.66" lengthAdjust="spacingAndGlyphs">k</text>
<text x="380.68" y="62" font-size="10.3" fill="#000" stroke="#000" stroke-width="0" textLength="25.39" lengthAdjust="spacingAndGlyphs">· (1 +</text>
<text x="408.93" y="62" font-size="10.3" font-style="italic" fill="#000" stroke="#000" stroke-width="0" textLength="5.02" lengthAdjust="spacingAndGlyphs">ξ</text>
<text x="413.95" y="63.6" font-size="6.78" font-style="italic" fill="#000" stroke="#000" stroke-width="0" textLength="3.33" lengthAdjust="spacingAndGlyphs">k</text>
<text x="417.28" y="62" font-size="10.3" fill="#000" stroke="#000" stroke-width="0" textLength="3.52" lengthAdjust="spacingAndGlyphs">)</text>
<rect x="35.5" y="268.2" width="52.3" height="211" fill="#bfbfbf" stroke="none" stroke-width="0"/>
<line x1="35.5" y1="467.55" x2="242.5" y2="467.55" stroke="#b0b0b0" stroke-width="0.6"/>
<line x1="35.5" y1="444.05" x2="242.5" y2="444.05" stroke="#b0b0b0" stroke-width="0.6"/>
<line x1="35.5" y1="420.55" x2="242.5" y2="420.55" stroke="#b0b0b0" stroke-width="0.6"/>
<line x1="35.5" y1="397.05" x2="242.5" y2="397.05" stroke="#b0b0b0" stroke-width="0.6"/>
<line x1="35.5" y1="373.55" x2="242.5" y2="373.55" stroke="#b0b0b0" stroke-width="0.6"/>
<line x1="35.5" y1="350.05" x2="242.5" y2="350.05" stroke="#b0b0b0" stroke-width="0.6"/>
<line x1="35.5" y1="326.55" x2="242.5" y2="326.55" stroke="#b0b0b0" stroke-width="0.6"/>
<line x1="35.5" y1="303.05" x2="242.5" y2="303.05" stroke="#b0b0b0" stroke-width="0.6"/>
<line x1="35.5" y1="279.55" x2="242.5" y2="279.55" stroke="#b0b0b0" stroke-width="0.6"/>
<rect x="37.9" y="397.05" width="23.3" height="50.65" fill="#1f77b4" stroke="none" stroke-width="0"/>
<rect x="61.2" y="372.9" width="23.3" height="24.15" fill="#d62728" stroke="none" stroke-width="0"/>
<rect x="89.8" y="397.05" width="23.3" height="36.7" fill="#1f77b4" stroke="none" stroke-width="0"/>
<rect x="113.1" y="312.1" width="23.3" height="84.95" fill="#d62728" stroke="none" stroke-width="0"/>
<rect x="141.6" y="397.05" width="23.3" height="20.85" fill="#1f77b4" stroke="none" stroke-width="0"/>
<rect x="164.9" y="397.05" width="23.3" height="38.95" fill="#d62728" stroke="none" stroke-width="0"/>
<rect x="193.4" y="390.4" width="23.3" height="6.65" fill="#1f77b4" stroke="none" stroke-width="0"/>
<rect x="216.7" y="397.05" width="23.3" height="20.85" fill="#d62728" stroke="none" stroke-width="0"/>
<line x1="35.5" y1="397.05" x2="242.5" y2="397.05" stroke="#111" stroke-width="1"/>
<line x1="49.55" y1="428.3" x2="49.55" y2="469.3" stroke="#000" stroke-width="2"/>
<line x1="43.75" y1="428.3" x2="55.35" y2="428.3" stroke="#000" stroke-width="1.15"/>
<line x1="43.75" y1="469.3" x2="55.35" y2="469.3" stroke="#000" stroke-width="1.15"/>
<line x1="43.75" y1="445.5" x2="55.35" y2="445.5" stroke="#8c8c8c" stroke-width="1"/>
<line x1="43.75" y1="450.6" x2="55.35" y2="450.6" stroke="#8c8c8c" stroke-width="1"/>
<line x1="72.85" y1="328.3" x2="72.85" y2="404.8" stroke="#000" stroke-width="2"/>
<line x1="67.05" y1="328.3" x2="78.65" y2="328.3" stroke="#000" stroke-width="1.15"/>
<line x1="67.05" y1="404.8" x2="78.65" y2="404.8" stroke="#000" stroke-width="1.15"/>
<line x1="67.05" y1="370.5" x2="78.65" y2="370.5" stroke="#8c8c8c" stroke-width="1"/>
<line x1="67.05" y1="375.6" x2="78.65" y2="375.6" stroke="#8c8c8c" stroke-width="1"/>
<line x1="101.45" y1="415.4" x2="101.45" y2="450.4" stroke="#000" stroke-width="2"/>
<line x1="95.65" y1="415.4" x2="107.25" y2="415.4" stroke="#000" stroke-width="1.15"/>
<line x1="95.65" y1="450.4" x2="107.25" y2="450.4" stroke="#000" stroke-width="1.15"/>
<line x1="95.65" y1="432" x2="107.25" y2="432" stroke="#8c8c8c" stroke-width="1"/>
<line x1="95.65" y1="435.5" x2="107.25" y2="435.5" stroke="#8c8c8c" stroke-width="1"/>
<line x1="124.75" y1="273.6" x2="124.75" y2="352.8" stroke="#000" stroke-width="2"/>
<line x1="118.95" y1="273.6" x2="130.55" y2="273.6" stroke="#000" stroke-width="1.15"/>
<line x1="118.95" y1="352.8" x2="130.55" y2="352.8" stroke="#000" stroke-width="1.15"/>
<line x1="118.95" y1="310.5" x2="130.55" y2="310.5" stroke="#8c8c8c" stroke-width="1"/>
<line x1="118.95" y1="314.4" x2="130.55" y2="314.4" stroke="#8c8c8c" stroke-width="1"/>
<line x1="153.25" y1="395" x2="153.25" y2="441.25" stroke="#000" stroke-width="2"/>
<line x1="147.45" y1="395" x2="159.05" y2="395" stroke="#000" stroke-width="1.15"/>
<line x1="147.45" y1="441.25" x2="159.05" y2="441.25" stroke="#000" stroke-width="1.15"/>
<line x1="147.45" y1="415.3" x2="159.05" y2="415.3" stroke="#8c8c8c" stroke-width="1"/>
<line x1="147.45" y1="420.4" x2="159.05" y2="420.4" stroke="#8c8c8c" stroke-width="1"/>
<line x1="176.55" y1="425.3" x2="176.55" y2="446.1" stroke="#000" stroke-width="2"/>
<line x1="170.75" y1="425.3" x2="182.35" y2="425.3" stroke="#000" stroke-width="1.15"/>
<line x1="170.75" y1="446.1" x2="182.35" y2="446.1" stroke="#000" stroke-width="1.15"/>
<line x1="170.75" y1="434.5" x2="182.35" y2="434.5" stroke="#8c8c8c" stroke-width="1"/>
<line x1="170.75" y1="438.2" x2="182.35" y2="438.2" stroke="#8c8c8c" stroke-width="1"/>
<line x1="205.05" y1="380.1" x2="205.05" y2="398.2" stroke="#000" stroke-width="2"/>
<line x1="199.25" y1="380.1" x2="210.85" y2="380.1" stroke="#000" stroke-width="1.15"/>
<line x1="199.25" y1="398.2" x2="210.85" y2="398.2" stroke="#000" stroke-width="1.15"/>
<line x1="199.25" y1="389.9" x2="210.85" y2="389.9" stroke="#8c8c8c" stroke-width="1"/>
<line x1="199.25" y1="391.25" x2="210.85" y2="391.25" stroke="#8c8c8c" stroke-width="1"/>
<line x1="228.35" y1="408.2" x2="228.35" y2="429.4" stroke="#000" stroke-width="2"/>
<line x1="222.55" y1="408.2" x2="234.15" y2="408.2" stroke="#000" stroke-width="1.15"/>
<line x1="222.55" y1="429.4" x2="234.15" y2="429.4" stroke="#000" stroke-width="1.15"/>
<line x1="222.55" y1="416.5" x2="234.15" y2="416.5" stroke="#8c8c8c" stroke-width="1"/>
<line x1="222.55" y1="419.3" x2="234.15" y2="419.3" stroke="#8c8c8c" stroke-width="1"/>
<rect x="35.5" y="268.2" width="207" height="211" fill="none" stroke="#737373" stroke-width="0.95"/>
<line x1="33.1" y1="467.55" x2="35.5" y2="467.55" stroke="#737373" stroke-width="0.95"/>
<text x="31.9" y="470.45" font-size="6.78" text-anchor="end" fill="#262626" stroke="#262626" stroke-width="0" textLength="8.84" lengthAdjust="spacingAndGlyphs">−3</text>
<line x1="33.1" y1="444.05" x2="35.5" y2="444.05" stroke="#737373" stroke-width="0.95"/>
<text x="31.9" y="446.95" font-size="6.78" text-anchor="end" fill="#262626" stroke="#262626" stroke-width="0" textLength="8.84" lengthAdjust="spacingAndGlyphs">−2</text>
<line x1="33.1" y1="420.55" x2="35.5" y2="420.55" stroke="#737373" stroke-width="0.95"/>
<text x="31.9" y="423.45" font-size="6.78" text-anchor="end" fill="#262626" stroke="#262626" stroke-width="0" textLength="8.84" lengthAdjust="spacingAndGlyphs">−1</text>
<line x1="33.1" y1="397.05" x2="35.5" y2="397.05" stroke="#737373" stroke-width="0.95"/>
<text x="31.9" y="399.95" font-size="6.78" text-anchor="end" fill="#262626" stroke="#262626" stroke-width="0" textLength="3.82" lengthAdjust="spacingAndGlyphs">0</text>
<line x1="33.1" y1="373.55" x2="35.5" y2="373.55" stroke="#737373" stroke-width="0.95"/>
<text x="31.9" y="376.45" font-size="6.78" text-anchor="end" fill="#262626" stroke="#262626" stroke-width="0" textLength="3.82" lengthAdjust="spacingAndGlyphs">1</text>
<line x1="33.1" y1="350.05" x2="35.5" y2="350.05" stroke="#737373" stroke-width="0.95"/>
<text x="31.9" y="352.95" font-size="6.78" text-anchor="end" fill="#262626" stroke="#262626" stroke-width="0" textLength="3.82" lengthAdjust="spacingAndGlyphs">2</text>
<line x1="33.1" y1="326.55" x2="35.5" y2="326.55" stroke="#737373" stroke-width="0.95"/>
<text x="31.9" y="329.45" font-size="6.78" text-anchor="end" fill="#262626" stroke="#262626" stroke-width="0" textLength="3.82" lengthAdjust="spacingAndGlyphs">3</text>
<line x1="33.1" y1="303.05" x2="35.5" y2="303.05" stroke="#737373" stroke-width="0.95"/>
<text x="31.9" y="305.95" font-size="6.78" text-anchor="end" fill="#262626" stroke="#262626" stroke-width="0" textLength="3.82" lengthAdjust="spacingAndGlyphs">4</text>
<line x1="33.1" y1="279.55" x2="35.5" y2="279.55" stroke="#737373" stroke-width="0.95"/>
<text x="31.9" y="282.45" font-size="6.78" text-anchor="end" fill="#262626" stroke="#262626" stroke-width="0" textLength="3.82" lengthAdjust="spacingAndGlyphs">5</text>
<line x1="61.2" y1="479.2" x2="61.2" y2="481.6" stroke="#737373" stroke-width="0.95"/>
<text x="61.2" y="489.4" font-size="7.91" text-anchor="middle" fill="#262626" stroke="#262626" stroke-width="0.1" textLength="28.84" lengthAdjust="spacingAndGlyphs">Net bias</text>
<line x1="113.1" y1="479.2" x2="113.1" y2="481.6" stroke="#737373" stroke-width="0.95"/>
<text x="113.1" y="489.4" font-size="7.91" text-anchor="middle" fill="#262626" stroke="#262626" stroke-width="0.1" textLength="37.11" lengthAdjust="spacingAndGlyphs">Dynamical</text>
<text x="113.1" y="497.4" font-size="7.91" text-anchor="middle" fill="#262626" stroke="#262626" stroke-width="0.1" textLength="14.32" lengthAdjust="spacingAndGlyphs">bias</text>
<line x1="164.9" y1="479.2" x2="164.9" y2="481.6" stroke="#737373" stroke-width="0.95"/>
<text x="164.9" y="489.4" font-size="7.91" text-anchor="middle" fill="#262626" stroke="#262626" stroke-width="0.1" textLength="39.25" lengthAdjust="spacingAndGlyphs">Conversion</text>
<text x="164.9" y="497.4" font-size="7.91" text-anchor="middle" fill="#262626" stroke="#262626" stroke-width="0.1" textLength="14.32" lengthAdjust="spacingAndGlyphs">bias</text>
<line x1="216.7" y1="479.2" x2="216.7" y2="481.6" stroke="#737373" stroke-width="0.95"/>
<text x="216.7" y="489.4" font-size="7.91" text-anchor="middle" fill="#262626" stroke="#262626" stroke-width="0.1" textLength="33.76" lengthAdjust="spacingAndGlyphs">Nonlinear</text>
<text x="216.7" y="497.4" font-size="7.91" text-anchor="middle" fill="#262626" stroke="#262626" stroke-width="0.1" textLength="14.32" lengthAdjust="spacingAndGlyphs">bias</text>
<text x="35.8" y="264.4" font-size="7.91" fill="#262626" stroke="#262626" stroke-width="0.1" textLength="6.58" lengthAdjust="spacingAndGlyphs">c)</text>
<text x="139" y="264.4" font-size="7.91" text-anchor="middle" fill="#262626" stroke="#262626" stroke-width="0.1" textLength="157.65" lengthAdjust="spacingAndGlyphs">DJF Southwestern Iberia Bias Decomposition</text>
<text x="19.1" y="373.95" font-size="7.91" text-anchor="middle" transform="rotate(-90 19.1 373.95)" fill="#262626" stroke="#262626" stroke-width="0.1" textLength="156.52" lengthAdjust="spacingAndGlyphs">Bias in p95 precip. occurrence (absolute %)</text>
<rect x="170.5" y="272.7" width="67.4" height="30.6" rx="2" fill="#fff" fill-opacity="0.8" stroke="#cccccc" stroke-width="0.7"/>
<rect x="174.1" y="277.2" width="18.7" height="6.5" fill="#1f77b4" stroke="none" stroke-width="0"/>
<rect x="174.1" y="291" width="18.7" height="6.8" fill="#d62728" stroke="none" stroke-width="0"/>
<text x="200.6" y="284" font-size="10.3" fill="#000" stroke="#000" stroke-width="0" textLength="32.56" lengthAdjust="spacingAndGlyphs">CESM2</text>
<text x="200.6" y="298" font-size="10.3" fill="#000" stroke="#000" stroke-width="0" textLength="33.51" lengthAdjust="spacingAndGlyphs">MPI-GE</text>
<clipPath id="cd"><rect x="285.5" y="268.2" width="207.0" height="211.0"/></clipPath>
<g clip-path="url(#cd)">
<polygon points="389,373.55 259.6,373.55 259.6,241.49 389,241.49" fill="#de7e8a" stroke="none" stroke-width="1"/>
<polygon points="389,373.55 518.4,373.55 518.4,505.61 389,505.61" fill="#de7e8a" stroke="none" stroke-width="1"/>
<polygon points="389,373.55 518.4,373.55 518.4,241.49 389,241.49" fill="#c5b4d6" stroke="none" stroke-width="1"/>
<polygon points="389,373.55 259.6,373.55 259.6,505.61 389,505.61" fill="#c5b4d6" stroke="none" stroke-width="1"/>
<polygon points="389,373.55 363.12,241.49 414.88,241.49" fill="#b3d1f5" stroke="none" stroke-width="1"/>
<polygon points="389,373.55 363.12,505.61 414.88,505.61" fill="#b3d1f5" stroke="none" stroke-width="1"/>
<polygon points="389,373.55 518.4,347.14 518.4,399.96" fill="#e6cc78" stroke="none" stroke-width="1"/>
<polygon points="389,373.55 259.6,347.14 259.6,399.96" fill="#e6cc78" stroke="none" stroke-width="1"/>
<polygon points="389,347.14 414.88,373.55 389,399.96 363.12,373.55" fill="#80f5a3" stroke="none" stroke-width="1"/>
<polygon points="389,320.73 440.76,373.55 389,426.37 337.24,373.55" fill="none" stroke="#6e6e6e" stroke-width="0.85"/>
<polygon points="389,294.31 466.64,373.55 389,452.79 311.36,373.55" fill="none" stroke="#6e6e6e" stroke-width="0.85"/>
<polygon points="389,267.9 492.52,373.55 389,479.2 285.48,373.55" fill="none" stroke="#6e6e6e" stroke-width="0.85"/>
<polygon points="389,241.49 518.4,373.55 389,505.61 259.6,373.55" fill="none" stroke="#6e6e6e" stroke-width="0.85"/>
<polygon points="389,188.67 570.16,373.55 389,558.43 207.84,373.55" fill="none" stroke="#6e6e6e" stroke-width="0.85"/>
<polygon points="389,162.25 596.04,373.55 389,584.85 181.96,373.55" fill="none" stroke="#6e6e6e" stroke-width="0.85"/>
<line x1="259.6" y1="241.49" x2="518.4" y2="505.61" stroke="#555" stroke-width="0.95" stroke-dasharray="1.1 1.6"/>
<line x1="384.69" y1="351.54" x2="363.12" y2="241.49" stroke="#000" stroke-width="1.4"/>
<line x1="393.31" y1="351.54" x2="414.88" y2="241.49" stroke="#000" stroke-width="1.4"/>
<line x1="384.69" y1="395.56" x2="363.12" y2="505.61" stroke="#000" stroke-width="1.4"/>
<line x1="393.31" y1="395.56" x2="414.88" y2="505.61" stroke="#000" stroke-width="1.4"/>
<line x1="410.57" y1="369.15" x2="518.4" y2="347.14" stroke="#000" stroke-width="1.4"/>
<line x1="410.57" y1="377.95" x2="518.4" y2="399.96" stroke="#000" stroke-width="1.4"/>
<line x1="367.43" y1="369.15" x2="259.6" y2="347.14" stroke="#000" stroke-width="1.4"/>
<line x1="367.43" y1="377.95" x2="259.6" y2="399.96" stroke="#000" stroke-width="1.4"/>
<polygon points="389,347.14 414.88,373.55 389,399.96 363.12,373.55" fill="none" stroke="#1a1a1a" stroke-width="1"/>
<line x1="389" y1="505.61" x2="389" y2="241.49" stroke="#000" stroke-width="1.7" stroke-opacity="0.62"/>
<line x1="259.6" y1="373.55" x2="518.4" y2="373.55" stroke="#000" stroke-width="1.2" stroke-opacity="0.9"/>
<circle cx="343.8" cy="268.2" r="1.6" fill="#d62728" stroke="#000" stroke-width="0.6"/>
<circle cx="339.7" cy="282.6" r="1.6" fill="#d62728" stroke="#000" stroke-width="0.6"/>
<circle cx="347.1" cy="283.4" r="1.6" fill="#d62728" stroke="#000" stroke-width="0.6"/>
<circle cx="350.4" cy="280.4" r="1.6" fill="#d62728" stroke="#000" stroke-width="0.6"/>
<circle cx="350.1" cy="283.4" r="1.6" fill="#d62728" stroke="#000" stroke-width="0.6"/>
<circle cx="349.6" cy="288" r="1.6" fill="#d62728" stroke="#000" stroke-width="0.6"/>
<circle cx="347.6" cy="289.6" r="1.6" fill="#d62728" stroke="#000" stroke-width="0.6"/>
<circle cx="339.4" cy="292.9" r="1.6" fill="#d62728" stroke="#000" stroke-width="0.6"/>
<circle cx="346" cy="292.4" r="1.6" fill="#d62728" stroke="#000" stroke-width="0.6"/>
<circle cx="354.2" cy="292.4" r="1.6" fill="#d62728" stroke="#000" stroke-width="0.6"/>
<circle cx="335.1" cy="295.7" r="1.6" fill="#d62728" stroke="#000" stroke-width="0.6"/>
<circle cx="348" cy="295.7" r="1.6" fill="#d62728" stroke="#000" stroke-width="0.6"/>
<circle cx="350.4" cy="296.2" r="1.6" fill="#d62728" stroke="#000" stroke-width="0.6"/>
<circle cx="345.5" cy="297.4" r="1.6" fill="#d62728" stroke="#000" stroke-width="0.6"/>
<circle cx="335.6" cy="298.5" r="1.6" fill="#d62728" stroke="#000" stroke-width="0.6"/>
<circle cx="338.4" cy="299.5" r="1.6" fill="#d62728" stroke="#000" stroke-width="0.6"/>
<circle cx="350.9" cy="298.5" r="1.6" fill="#d62728" stroke="#000" stroke-width="0.6"/>
<circle cx="356.2" cy="300.2" r="1.6" fill="#d62728" stroke="#000" stroke-width="0.6"/>
<circle cx="358.2" cy="301.8" r="1.6" fill="#d62728" stroke="#000" stroke-width="0.6"/>
<circle cx="353.7" cy="303.1" r="1.6" fill="#d62728" stroke="#000" stroke-width="0.6"/>
<circle cx="342.2" cy="306.1" r="1.6" fill="#d62728" stroke="#000" stroke-width="0.6"/>
<circle cx="350.1" cy="305.6" r="1.6" fill="#d62728" stroke="#000" stroke-width="0.6"/>
<circle cx="336.1" cy="307.2" r="1.6" fill="#d62728" stroke="#000" stroke-width="0.6"/>
<circle cx="337.3" cy="309.4" r="1.6" fill="#d62728" stroke="#000" stroke-width="0.6"/>
<circle cx="346.3" cy="309.7" r="1.6" fill="#d62728" stroke="#000" stroke-width="0.6"/>
<circle cx="353.7" cy="309.4" r="1.6" fill="#d62728" stroke="#000" stroke-width="0.6"/>
<circle cx="351.7" cy="311" r="1.6" fill="#d62728" stroke="#000" stroke-width="0.6"/>
<circle cx="343.5" cy="312.2" r="1.6" fill="#d62728" stroke="#000" stroke-width="0.6"/>
<circle cx="350.4" cy="312.2" r="1.6" fill="#d62728" stroke="#000" stroke-width="0.6"/>
<circle cx="355.4" cy="313.8" r="1.6" fill="#d62728" stroke="#000" stroke-width="0.6"/>
<circle cx="338.4" cy="315.5" r="1.6" fill="#d62728" stroke="#000" stroke-width="0.6"/>
<circle cx="335.6" cy="319.2" r="1.6" fill="#d62728" stroke="#000" stroke-width="0.6"/>
<circle cx="340.6" cy="318.7" r="1.6" fill="#d62728" stroke="#000" stroke-width="0.6"/>
<circle cx="354.2" cy="319.2" r="1.6" fill="#d62728" stroke="#000" stroke-width="0.6"/>
<circle cx="338.4" cy="324.5" r="1.6" fill="#d62728" stroke="#000" stroke-width="0.6"/>
<circle cx="343.5" cy="324.8" r="1.6" fill="#d62728" stroke="#000" stroke-width="0.6"/>
<circle cx="340.6" cy="333.1" r="1.6" fill="#d62728" stroke="#000" stroke-width="0.6"/>
<circle cx="344.7" cy="336.3" r="1.6" fill="#d62728" stroke="#000" stroke-width="0.6"/>
<circle cx="344.1" cy="386.7" r="1.6" fill="#1f77b4" stroke="#000" stroke-width="0.6"/>
<circle cx="350.3" cy="391.2" r="1.6" fill="#1f77b4" stroke="#000" stroke-width="0.6"/>
<circle cx="357.2" cy="394.4" r="1.6" fill="#1f77b4" stroke="#000" stroke-width="0.6"/>
<circle cx="360.1" cy="395.2" r="1.6" fill="#1f77b4" stroke="#000" stroke-width="0.6"/>
<circle cx="361.7" cy="392.5" r="1.6" fill="#1f77b4" stroke="#000" stroke-width="0.6"/>
<circle cx="371.3" cy="390.9" r="1.6" fill="#1f77b4" stroke="#000" stroke-width="0.6"/>
<circle cx="352.4" cy="398.4" r="1.6" fill="#1f77b4" stroke="#000" stroke-width="0.6"/>
<circle cx="364.4" cy="397.3" r="1.6" fill="#1f77b4" stroke="#000" stroke-width="0.6"/>
<circle cx="373.5" cy="397.6" r="1.6" fill="#1f77b4" stroke="#000" stroke-width="0.6"/>
<circle cx="340.9" cy="405.3" r="1.6" fill="#1f77b4" stroke="#000" stroke-width="0.6"/>
<circle cx="346.8" cy="403.7" r="1.6" fill="#1f77b4" stroke="#000" stroke-width="0.6"/>
<circle cx="347.9" cy="402.7" r="1.6" fill="#1f77b4" stroke="#000" stroke-width="0.6"/>
<circle cx="352.4" cy="404.8" r="1.6" fill="#1f77b4" stroke="#000" stroke-width="0.6"/>
<circle cx="355.3" cy="402.1" r="1.6" fill="#1f77b4" stroke="#000" stroke-width="0.6"/>
<circle cx="358.5" cy="403.7" r="1.6" fill="#1f77b4" stroke="#000" stroke-width="0.6"/>
<circle cx="370" cy="402.1" r="1.6" fill="#1f77b4" stroke="#000" stroke-width="0.6"/>
<circle cx="371.9" cy="404.3" r="1.6" fill="#1f77b4" stroke="#000" stroke-width="0.6"/>
<circle cx="358.8" cy="408.8" r="1.6" fill="#1f77b4" stroke="#000" stroke-width="0.6"/>
<circle cx="360.1" cy="410.1" r="1.6" fill="#1f77b4" stroke="#000" stroke-width="0.6"/>
<circle cx="356.4" cy="411.7" r="1.6" fill="#1f77b4" stroke="#000" stroke-width="0.6"/>
<circle cx="364.4" cy="412.8" r="1.6" fill="#1f77b4" stroke="#000" stroke-width="0.6"/>
<circle cx="371.3" cy="410.1" r="1.6" fill="#1f77b4" stroke="#000" stroke-width="0.6"/>
<circle cx="376.4" cy="410.1" r="1.6" fill="#1f77b4" stroke="#000" stroke-width="0.6"/>
<circle cx="375.6" cy="413.3" r="1.6" fill="#1f77b4" stroke="#000" stroke-width="0.6"/>
<circle cx="377.2" cy="414.9" r="1.6" fill="#1f77b4" stroke="#000" stroke-width="0.6"/>
<circle cx="379.6" cy="412" r="1.6" fill="#1f77b4" stroke="#000" stroke-width="0.6"/>
<circle cx="391.1" cy="410.9" r="1.6" fill="#1f77b4" stroke="#000" stroke-width="0.6"/>
<circle cx="365.5" cy="420.3" r="1.6" fill="#1f77b4" stroke="#000" stroke-width="0.6"/>
<circle cx="380.4" cy="418.7" r="1.6" fill="#1f77b4" stroke="#000" stroke-width="0.6"/>
<circle cx="388.9" cy="420.8" r="1.6" fill="#1f77b4" stroke="#000" stroke-width="0.6"/>
<circle cx="377.7" cy="422.4" r="1.6" fill="#1f77b4" stroke="#000" stroke-width="0.6"/>
<circle cx="376.4" cy="425.6" r="1.6" fill="#1f77b4" stroke="#000" stroke-width="0.6"/>
<circle cx="383.1" cy="425.6" r="1.6" fill="#1f77b4" stroke="#000" stroke-width="0.6"/>
<circle cx="380.4" cy="430.9" r="1.6" fill="#1f77b4" stroke="#000" stroke-width="0.6"/>
<circle cx="367.6" cy="403.7" r="1.6" fill="#1f77b4" stroke="#000" stroke-width="0.6"/>
<circle cx="346" cy="302.3" r="2.7" fill="#d62728" stroke="#f4f4f4" stroke-width="1"/>
<circle cx="366" cy="407.5" r="2.7" fill="#1f77b4" stroke="#f4f4f4" stroke-width="1"/>
</g>
<rect x="285.5" y="268.2" width="207" height="211" fill="none" stroke="#3c3c3c" stroke-width="1.1"/>
<line x1="285.48" y1="479.2" x2="285.48" y2="481.6" stroke="#737373" stroke-width="0.95"/>
<text x="285.48" y="488" font-size="6.78" text-anchor="middle" fill="#262626" stroke="#262626" stroke-width="0" textLength="12.66" lengthAdjust="spacingAndGlyphs">−80</text>
<line x1="283.1" y1="479.2" x2="285.5" y2="479.2" stroke="#737373" stroke-width="0.95"/>
<text x="281.8" y="482.1" font-size="6.78" text-anchor="end" fill="#262626" stroke="#262626" stroke-width="0" textLength="12.66" lengthAdjust="spacingAndGlyphs">−80</text>
<line x1="311.36" y1="479.2" x2="311.36" y2="481.6" stroke="#737373" stroke-width="0.95"/>
<text x="311.36" y="488" font-size="6.78" text-anchor="middle" fill="#262626" stroke="#262626" stroke-width="0" textLength="12.66" lengthAdjust="spacingAndGlyphs">−60</text>
<line x1="283.1" y1="452.79" x2="285.5" y2="452.79" stroke="#737373" stroke-width="0.95"/>
<text x="281.8" y="455.69" font-size="6.78" text-anchor="end" fill="#262626" stroke="#262626" stroke-width="0" textLength="12.66" lengthAdjust="spacingAndGlyphs">−60</text>
<line x1="337.24" y1="479.2" x2="337.24" y2="481.6" stroke="#737373" stroke-width="0.95"/>
<text x="337.24" y="488" font-size="6.78" text-anchor="middle" fill="#262626" stroke="#262626" stroke-width="0" textLength="12.66" lengthAdjust="spacingAndGlyphs">−40</text>
<line x1="283.1" y1="426.37" x2="285.5" y2="426.37" stroke="#737373" stroke-width="0.95"/>
<text x="281.8" y="429.27" font-size="6.78" text-anchor="end" fill="#262626" stroke="#262626" stroke-width="0" textLength="12.66" lengthAdjust="spacingAndGlyphs">−40</text>
<line x1="363.12" y1="479.2" x2="363.12" y2="481.6" stroke="#737373" stroke-width="0.95"/>
<text x="363.12" y="488" font-size="6.78" text-anchor="middle" fill="#262626" stroke="#262626" stroke-width="0" textLength="12.66" lengthAdjust="spacingAndGlyphs">−20</text>
<line x1="283.1" y1="399.96" x2="285.5" y2="399.96" stroke="#737373" stroke-width="0.95"/>
<text x="281.8" y="402.86" font-size="6.78" text-anchor="end" fill="#262626" stroke="#262626" stroke-width="0" textLength="12.66" lengthAdjust="spacingAndGlyphs">−20</text>
<line x1="389" y1="479.2" x2="389" y2="481.6" stroke="#737373" stroke-width="0.95"/>
<text x="389" y="488" font-size="6.78" text-anchor="middle" fill="#262626" stroke="#262626" stroke-width="0" textLength="3.82" lengthAdjust="spacingAndGlyphs">0</text>
<line x1="283.1" y1="373.55" x2="285.5" y2="373.55" stroke="#737373" stroke-width="0.95"/>
<text x="281.8" y="376.45" font-size="6.78" text-anchor="end" fill="#262626" stroke="#262626" stroke-width="0" textLength="3.82" lengthAdjust="spacingAndGlyphs">0</text>
<line x1="414.88" y1="479.2" x2="414.88" y2="481.6" stroke="#737373" stroke-width="0.95"/>
<text x="414.88" y="488" font-size="6.78" text-anchor="middle" fill="#262626" stroke="#262626" stroke-width="0" textLength="7.63" lengthAdjust="spacingAndGlyphs">20</text>
<line x1="283.1" y1="347.14" x2="285.5" y2="347.14" stroke="#737373" stroke-width="0.95"/>
<text x="281.8" y="350.04" font-size="6.78" text-anchor="end" fill="#262626" stroke="#262626" stroke-width="0" textLength="7.63" lengthAdjust="spacingAndGlyphs">20</text>
<line x1="440.76" y1="479.2" x2="440.76" y2="481.6" stroke="#737373" stroke-width="0.95"/>
<text x="440.76" y="488" font-size="6.78" text-anchor="middle" fill="#262626" stroke="#262626" stroke-width="0" textLength="7.63" lengthAdjust="spacingAndGlyphs">40</text>
<line x1="283.1" y1="320.73" x2="285.5" y2="320.73" stroke="#737373" stroke-width="0.95"/>
<text x="281.8" y="323.63" font-size="6.78" text-anchor="end" fill="#262626" stroke="#262626" stroke-width="0" textLength="7.63" lengthAdjust="spacingAndGlyphs">40</text>
<line x1="466.64" y1="479.2" x2="466.64" y2="481.6" stroke="#737373" stroke-width="0.95"/>
<text x="466.64" y="488" font-size="6.78" text-anchor="middle" fill="#262626" stroke="#262626" stroke-width="0" textLength="7.63" lengthAdjust="spacingAndGlyphs">60</text>
<line x1="283.1" y1="294.31" x2="285.5" y2="294.31" stroke="#737373" stroke-width="0.95"/>
<text x="281.8" y="297.21" font-size="6.78" text-anchor="end" fill="#262626" stroke="#262626" stroke-width="0" textLength="7.63" lengthAdjust="spacingAndGlyphs">60</text>
<line x1="492.52" y1="479.2" x2="492.52" y2="481.6" stroke="#737373" stroke-width="0.95"/>
<text x="492.52" y="488" font-size="6.78" text-anchor="middle" fill="#262626" stroke="#262626" stroke-width="0" textLength="7.63" lengthAdjust="spacingAndGlyphs">80</text>
<line x1="283.1" y1="267.9" x2="285.5" y2="267.9" stroke="#737373" stroke-width="0.95"/>
<text x="281.8" y="270.8" font-size="6.78" text-anchor="end" fill="#262626" stroke="#262626" stroke-width="0" textLength="7.63" lengthAdjust="spacingAndGlyphs">80</text>
<text x="285.8" y="264.4" font-size="7.91" fill="#262626" stroke="#262626" stroke-width="0.1" textLength="7.17" lengthAdjust="spacingAndGlyphs">d)</text>
<text x="389" y="264.4" font-size="7.91" text-anchor="middle" fill="#262626" stroke="#262626" stroke-width="0.1" textLength="154.38" lengthAdjust="spacingAndGlyphs">DJF Southwestern Iberia Bias Categorisation</text>
<text x="328.3" y="497.8" font-size="7.91" font-style="italic" fill="#262626" stroke="#262626" stroke-width="0.1" textLength="4.54" lengthAdjust="spacingAndGlyphs">b</text>
<text x="332.84" y="499.1" font-size="5.54" fill="#262626" stroke="#262626" stroke-width="0" textLength="11.95" lengthAdjust="spacingAndGlyphs">conv</text>
<text x="344.79" y="497.8" font-size="7.91" fill="#262626" stroke="#262626" stroke-width="0.1" textLength="105.41" lengthAdjust="spacingAndGlyphs">, Conversion bias (relative %)</text>
<g transform="rotate(-90 269.8 373.65)">
<text x="191.35" y="373.65" font-size="7.91" font-style="italic" fill="#262626" stroke="#262626" stroke-width="0.1" textLength="4.59" lengthAdjust="spacingAndGlyphs">b</text>
<text x="195.94" y="374.95" font-size="5.54" fill="#262626" stroke="#262626" stroke-width="0" textLength="20.26" lengthAdjust="spacingAndGlyphs">dyn+NL</text>
<text x="216.2" y="373.65" font-size="7.91" fill="#262626" stroke="#262626" stroke-width="0.1" textLength="132.05" lengthAdjust="spacingAndGlyphs">, Dynamical and NL bias (relative %)</text>
</g>
<rect x="411.5" y="269.3" width="78.1" height="65.3" rx="2" fill="#fff" fill-opacity="0.8" stroke="#cccccc" stroke-width="0.7"/>
<rect x="414" y="273.1" width="11.7" height="5.2" fill="#b3d1f5" stroke="#000" stroke-width="1"/>
<text x="431" y="277.9" font-size="6.1" fill="#262626" stroke="#262626" stroke-width="0" textLength="44.75" lengthAdjust="spacingAndGlyphs">Dynamical Bias</text>
<rect x="414" y="282.1" width="11.7" height="5.2" fill="#e6cc78" stroke="#000" stroke-width="1"/>
<text x="431" y="286.9" font-size="6.1" fill="#262626" stroke="#262626" stroke-width="0" textLength="46.53" lengthAdjust="spacingAndGlyphs">Conversion Bias</text>
<rect x="414" y="291.1" width="11.7" height="5.2" fill="#c5b4d6" stroke="#000" stroke-width="1"/>
<text x="431" y="295.9" font-size="6.1" fill="#262626" stroke="#262626" stroke-width="0" textLength="54.49" lengthAdjust="spacingAndGlyphs">Compounding Bias</text>
<rect x="414" y="300.1" width="11.7" height="5.2" fill="#de7e8a" stroke="#000" stroke-width="1"/>
<text x="431" y="304.9" font-size="6.1" fill="#262626" stroke="#262626" stroke-width="0" textLength="56" lengthAdjust="spacingAndGlyphs">Compensating Bias</text>
<rect x="414" y="309.1" width="11.7" height="5.2" fill="#80f5a3" stroke="#000" stroke-width="1"/>
<text x="431" y="313.9" font-size="6.1" fill="#262626" stroke="#262626" stroke-width="0" textLength="36.73" lengthAdjust="spacingAndGlyphs">Minimal Bias</text>
<circle cx="420" cy="320.7" r="2.7" fill="#1f77b4" stroke="none" stroke-width="0"/>
<text x="431" y="322.9" font-size="6.1" fill="#262626" stroke="#262626" stroke-width="0" textLength="20.09" lengthAdjust="spacingAndGlyphs">CESM2</text>
<circle cx="420" cy="329.7" r="2.7" fill="#d62728" stroke="none" stroke-width="0"/>
<text x="431" y="331.9" font-size="6.1" fill="#262626" stroke="#262626" stroke-width="0" textLength="20.68" lengthAdjust="spacingAndGlyphs">MPI-GE</text>
</svg></body></html>
